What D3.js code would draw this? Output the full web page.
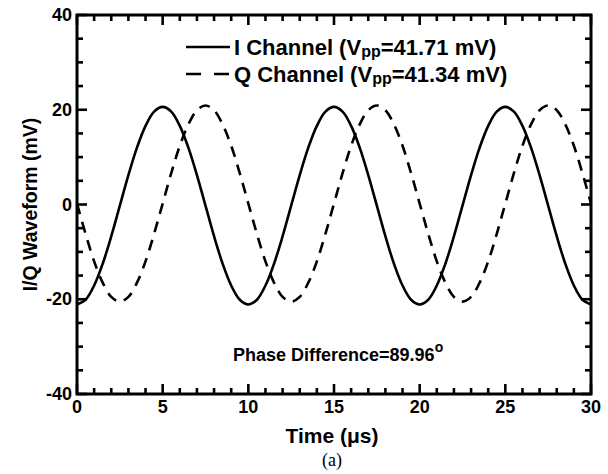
<!DOCTYPE html>
<html><head><meta charset="utf-8">
<script src="https://cdn.jsdelivr.net/npm/d3@7"></script>
<style>body{margin:0;background:#fff}svg{display:block}text{font-family:"Liberation Sans",Arial,sans-serif;font-weight:bold;fill:#000}</style>
</head><body>
<script>
// Data
const time = d3.range(0, 30.01, 0.5).map(v => +v.toFixed(1));
const iChannel = [
 -21.1,-20.1,-17.1,-12.5,-6.7,-0.25,6.2,12.0,16.6,19.6,20.6,19.6,16.6,12.0,6.2,-0.25,-6.7,-12.5,-17.1,-20.1,
 -21.1,-20.1,-17.1,-12.5,-6.7,-0.25,6.2,12.0,16.6,19.6,20.6,19.6,16.6,12.0,6.2,-0.25,-6.7,-12.5,-17.1,-20.1,
 -21.1,-20.1,-17.1,-12.5,-6.7,-0.25,6.2,12.0,16.6,19.6,20.6,19.6,16.6,12.0,6.2,-0.25,-6.7,-12.5,-17.1,-20.1,
 -21.1];
const qChannel = [
 0.2,-6.2,-12.0,-16.5,-19.5,-20.5,-19.5,-16.5,-12.0,-6.2,0.2,6.6,12.4,16.9,19.9,20.9,19.9,16.9,12.4,6.6,
 0.2,-6.2,-12.0,-16.5,-19.5,-20.5,-19.5,-16.5,-12.0,-6.2,0.2,6.6,12.4,16.9,19.9,20.9,19.9,16.9,12.4,6.6,
 0.2,-6.2,-12.0,-16.5,-19.5,-20.5,-19.5,-16.5,-12.0,-6.2,0.2,6.6,12.4,16.9,19.9,20.9,19.9,16.9,12.4,6.6,
 0.2];
const xTicks = [0,5,10,15,20,25,30];
const yTicks = [-40,-20,0,20,40];
const xMinor = d3.range(0,31,1);
const yMinor = d3.range(-40,41,5);
const legendI = {name:"I Channel (V", sub:"pp", rest:"=41.71 mV)"};
const legendQ = {name:"Q Channel (V", sub:"pp", rest:"=41.34 mV)"};

const W=608,H=474, L=77,R=591,T=15,B=394;
const svg=d3.select("body").append("svg").attr("width",W).attr("height",H);
const x=d3.scaleLinear().domain([0,30]).range([L,R]);
const y=d3.scaleLinear().domain([-40,40]).range([B,T]);

const line=d3.line().x((d,i)=>x(time[i])).y(d=>y(d)).curve(d3.curveCatmullRom);
svg.append("path").attr("d",line(iChannel)).attr("fill","none").attr("stroke","#000").attr("stroke-width",2.6);
svg.append("path").attr("d",line(qChannel)).attr("fill","none").attr("stroke","#000").attr("stroke-width",2.6).attr("stroke-dasharray","11,8");

// frame
svg.append("rect").attr("x",L).attr("y",T).attr("width",R-L).attr("height",B-T).attr("fill","none").attr("stroke","#000").attr("stroke-width",3);

// inward ticks on all four sides
const isMajX=d=>d%5===0, isMajY=d=>d%20===0;
const tw=2.6;
const xt=svg.append("g");
xt.selectAll("line.b").data(xMinor).join("line").attr("class","b")
  .attr("x1",d=>x(d)).attr("x2",d=>x(d)).attr("y1",B).attr("y2",d=>B-(isMajX(d)?10:6)).attr("stroke","#000").attr("stroke-width",tw);
xt.selectAll("line.t").data(xMinor).join("line").attr("class","t")
  .attr("x1",d=>x(d)).attr("x2",d=>x(d)).attr("y1",T).attr("y2",d=>T+(isMajX(d)?10:6)).attr("stroke","#000").attr("stroke-width",tw);
const yt=svg.append("g");
yt.selectAll("line.l").data(yMinor).join("line").attr("class","l")
  .attr("y1",d=>y(d)).attr("y2",d=>y(d)).attr("x1",L).attr("x2",d=>L+(isMajY(d)?10:6)).attr("stroke","#000").attr("stroke-width",tw);
yt.selectAll("line.r").data(yMinor).join("line").attr("class","r")
  .attr("y1",d=>y(d)).attr("y2",d=>y(d)).attr("x1",R).attr("x2",d=>R-(isMajY(d)?10:6)).attr("stroke","#000").attr("stroke-width",tw);

// tick labels
svg.append("g").selectAll("text").data(xTicks).join("text").attr("x",d=>x(d)).attr("y",B+19)
  .attr("text-anchor","middle").attr("font-size",18).text(d=>d);
svg.append("g").selectAll("text").data(yTicks).join("text").attr("x",L-5).attr("y",d=>y(d)+6)
  .attr("text-anchor","end").attr("font-size",18).text(d=>d);

svg.append("text").attr("x",332).attr("y",443).attr("text-anchor","middle").attr("font-size",21).text("Time (μs)");
svg.append("text").attr("transform",`translate(37,${(T+B)/2}) rotate(-90)`).attr("text-anchor","middle").attr("font-size",19.5).text("I/Q Waveform (mV)");
svg.append("text").attr("x",332).attr("y",466).attr("text-anchor","middle").attr("font-size",18)
  .style("font-family","'Liberation Serif','Times New Roman',serif").style("font-weight","normal").text("(a)");

// legend
function leg(item, yy, dash){
  svg.append("line").attr("x1",186).attr("x2",230).attr("y1",yy).attr("y2",yy).attr("stroke","#000").attr("stroke-width",2.6)
    .attr("stroke-dasharray",dash);
  const t=svg.append("text").attr("x",234).attr("y",yy+8).attr("font-size",22);
  t.append("tspan").text(item.name);
  t.append("tspan").attr("font-size",16).attr("dy",2).text(item.sub);
  t.append("tspan").attr("dy",-2).text(item.rest);
}
leg(legendI,47,null);
leg(legendQ,74,"15,13");

const pt=svg.append("text").attr("x",233).attr("y",361).attr("font-size",18);
pt.append("tspan").text("Phase Difference=89.96");
pt.append("tspan").attr("font-size",14).attr("dy",-9).text("o");
</script>
</body></html>
